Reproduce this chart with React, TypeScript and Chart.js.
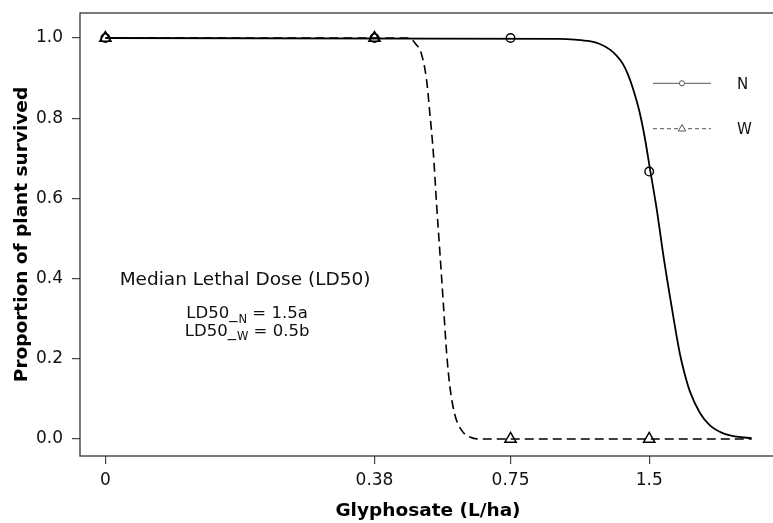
import React, { useEffect, useRef } from "react";
import { Chart, registerables } from "chart.js";

Chart.register(...registerables);

// ---------- data ----------
const ZERO_POSITION = 0.099; // where dose 0 is drawn on the log axis
const DOSES = [0, 0.38, 0.75, 1.5];
const TICK_LABELS = ["0", "0.38", "0.75", "1.5"];
const Y_TICKS = [0, 0.2, 0.4, 0.6, 0.8, 1.0];

const N_OBSERVED = [1, 1, 1, 0.667];
const W_OBSERVED = [1, 1, 0, 0];

const N_CURVE_DOSE = [0.099, 0.96, 1.035, 1.113, 1.172, 1.233, 1.277, 1.316, 1.348, 1.383, 1.433, 1.468, 1.505, 1.557, 1.609, 1.678, 1.749, 1.793, 1.839, 1.933, 2.032, 2.172, 2.322, 2.503];
const N_CURVE_VALUE = [1, 0.998, 0.996, 0.992, 0.985, 0.971, 0.955, 0.935, 0.91, 0.874, 0.81, 0.75, 0.675, 0.574, 0.46, 0.33, 0.212, 0.16, 0.118, 0.065, 0.034, 0.014, 0.006, 0.002];

const W_CURVE_DOSE = [0.099, 0.444, 0.457, 0.467, 0.48, 0.493, 0.501, 0.51, 0.518, 0.527, 0.536, 0.545, 0.554, 0.568, 0.587, 0.612, 0.643, 2.503];
const W_CURVE_VALUE = [1, 1, 0.997, 0.985, 0.962, 0.895, 0.813, 0.713, 0.589, 0.464, 0.339, 0.214, 0.13, 0.06, 0.022, 0.005, 0, 0];

const LEGEND_LABELS = ["N", "W"];
const NOTE_TITLE = "Median Lethal Dose (LD50)";
const LD50_GROUPS = ["N", "W"];
const LD50_VALUES = ["1.5a", "0.5b"];

const X_TITLE = "Glyphosate (L/ha)";
const Y_TITLE = "Proportion of plant survived";

// ---------- helpers ----------
const plotDose = (d: number) => (d === 0 ? ZERO_POSITION : d);
const FONT = '"DejaVu Sans", "Liberation Sans", Arial, sans-serif';

const overlayPlugin = {
  id: "overlay",
  afterDraw(chart: any) {
    const { ctx, chartArea: a, scales } = chart;
    const xs = scales.x;
    const ys = scales.y;
    ctx.save();

    // frame
    ctx.strokeStyle = "#333";
    ctx.lineWidth = 1.3;
    ctx.setLineDash([]);
    ctx.strokeRect(a.left, a.top, a.right - a.left, a.bottom - a.top);

    // annotation
    ctx.fillStyle = "#111";
    ctx.textBaseline = "alphabetic";
    ctx.textAlign = "left";
    const cx = xs.getPixelForValue(0.199);
    ctx.font = `18.5px ${FONT}`;
    const tw = ctx.measureText(NOTE_TITLE).width;
    ctx.fillText(NOTE_TITLE, cx - tw / 2, ys.getPixelForValue(0.383));

    const lineYs = [0.301, 0.258];
    LD50_GROUPS.forEach((g, i) => {
      const main = "LD50_";
      const rest = " = " + LD50_VALUES[i];
      ctx.font = `16.5px ${FONT}`;
      const w1 = ctx.measureText(main).width;
      const w3 = ctx.measureText(rest).width;
      ctx.font = `11.5px ${FONT}`;
      const w2 = ctx.measureText(g).width;
      const total = w1 + w2 + w3 + 1;
      const x0 = cx + 2 - total / 2;
      const by = ys.getPixelForValue(lineYs[i]);
      ctx.font = `16.5px ${FONT}`;
      ctx.fillText(main, x0, by);
      ctx.font = `11.5px ${FONT}`;
      ctx.fillText(g, x0 + w1 + 1, by + 4.5);
      ctx.font = `16.5px ${FONT}`;
      ctx.fillText(rest, x0 + w1 + w2 + 1, by);
    });

    // legend
    const lx0 = a.right - 123;
    const lx1 = a.right - 65;
    const mx = (lx0 + lx1) / 2;
    const rowY = [a.top + 70.3, a.top + 115.7];
    LEGEND_LABELS.forEach((lab, i) => {
      const yy = rowY[i];
      ctx.strokeStyle = "#555";
      ctx.lineWidth = 1;
      ctx.setLineDash(i === 0 ? [] : [4, 3]);
      ctx.beginPath();
      ctx.moveTo(lx0, yy);
      ctx.lineTo(lx1, yy);
      ctx.stroke();
      ctx.setLineDash([]);
      ctx.fillStyle = "#fff";
      ctx.beginPath();
      if (i === 0) {
        ctx.arc(mx, yy, 2.6, 0, Math.PI * 2);
      } else {
        ctx.moveTo(mx, yy - 4.2);
        ctx.lineTo(mx + 3.7, yy + 2.3);
        ctx.lineTo(mx - 3.7, yy + 2.3);
        ctx.closePath();
      }
      ctx.fill();
      ctx.stroke();
      ctx.fillStyle = "#111";
      ctx.font = `15px ${FONT}`;
      ctx.textBaseline = "middle";
      ctx.fillText(lab, a.right - 39, yy + 1.5);
      ctx.textBaseline = "alphabetic";
    });

    ctx.restore();
  },
};

export default function App() {
  const ref = useRef<HTMLCanvasElement | null>(null);

  useEffect(() => {
    if (!ref.current) return;
    const chart = new Chart(ref.current, {
      type: "scatter",
      data: {
        datasets: [
          {
            label: "W observed",
            data: DOSES.map((d, i) => ({ x: plotDose(d), y: W_OBSERVED[i] })),
            showLine: false,
            pointStyle: "triangle",
            pointRadius: 6.5,
            pointBorderWidth: 1.5,
            pointBorderColor: "#000",
            pointBackgroundColor: "rgba(0,0,0,0)",
            order: 0,
          },
          {
            label: "N observed",
            data: DOSES.map((d, i) => ({ x: plotDose(d), y: N_OBSERVED[i] })),
            showLine: false,
            pointStyle: "circle",
            pointRadius: 4.3,
            pointBorderWidth: 1.4,
            pointBorderColor: "#000",
            pointBackgroundColor: "rgba(0,0,0,0)",
            order: 1,
          },
          {
            label: "N",
            data: N_CURVE_DOSE.map((d, i) => ({ x: d, y: N_CURVE_VALUE[i] })),
            showLine: true,
            borderColor: "#000",
            borderWidth: 1.8,
            pointRadius: 0,
            cubicInterpolationMode: "monotone",
            order: 2,
          },
          {
            label: "W",
            data: W_CURVE_DOSE.map((d, i) => ({ x: d, y: W_CURVE_VALUE[i] })),
            showLine: true,
            borderColor: "#000",
            borderWidth: 1.6,
            borderDash: [9, 5],
            pointRadius: 0,
            cubicInterpolationMode: "monotone",
            order: 3,
          },
        ],
      },
      options: {
        animation: false,
        responsive: false,
        devicePixelRatio: 1,
        layout: { autoPadding: false, padding: { top: 13, right: 14, left: 0, bottom: 0 } },
        plugins: { legend: { display: false }, tooltip: { enabled: false } },
        scales: {
          x: {
            type: "logarithmic",
            min: 0.0872,
            max: 2.827,
            afterBuildTicks: (s: any) => {
              s.ticks = DOSES.map((d) => ({ value: plotDose(d) }));
            },
            afterFit: (s: any) => {
              s.height = 67;
              s.paddingLeft = 0;
              s.paddingRight = 0;
              s.paddingTop = 0;
              s.paddingBottom = 0;
            },
            ticks: {
              autoSkip: false,
              maxRotation: 0,
              padding: 6,
              color: "#111",
              font: { family: FONT, size: 17 },
              callback: (_v: any, i: number) => TICK_LABELS[i],
            },
            grid: { drawOnChartArea: false, drawTicks: true, tickLength: 8, color: "#444", lineWidth: 1.2 },
            border: { display: false },
            title: {
              display: true,
              text: X_TITLE,
              color: "#000",
              font: { family: FONT, size: 18.5, weight: "bold", lineHeight: 1 },
              padding: { top: 0, bottom: 3 },
            },
          },
          y: {
            type: "linear",
            min: -0.0424,
            max: 1.0624,
            afterBuildTicks: (s: any) => {
              s.ticks = Y_TICKS.map((v) => ({ value: v }));
            },
            afterFit: (s: any) => {
              s.width = 80;
              s.paddingLeft = 0;
              s.paddingRight = 0;
              s.paddingTop = 0;
              s.paddingBottom = 0;
            },
            ticks: {
              padding: 9,
              color: "#111",
              font: { family: FONT, size: 17 },
              callback: (v: any) => Number(v).toFixed(1),
            },
            grid: { drawOnChartArea: false, drawTicks: true, tickLength: 8, color: "#444", lineWidth: 1.2 },
            border: { display: false },
            title: {
              display: true,
              text: Y_TITLE,
              color: "#000",
              font: { family: FONT, size: 18.5, weight: "bold", lineHeight: 1 },
              padding: { top: 12.5, bottom: 0 },
            },
          },
        },
      } as any,
      plugins: [overlayPlugin],
    });
    return () => chart.destroy();
  }, []);

  return (
    <div
      style={{
        position: "fixed",
        left: 0,
        top: 0,
        width: 773,
        height: 523,
        overflow: "hidden",
        background: "#fff",
      }}
    >
      <canvas ref={ref} width={790} height={523} style={{ display: "block", width: 790, height: 523 }} />
    </div>
  );
}
